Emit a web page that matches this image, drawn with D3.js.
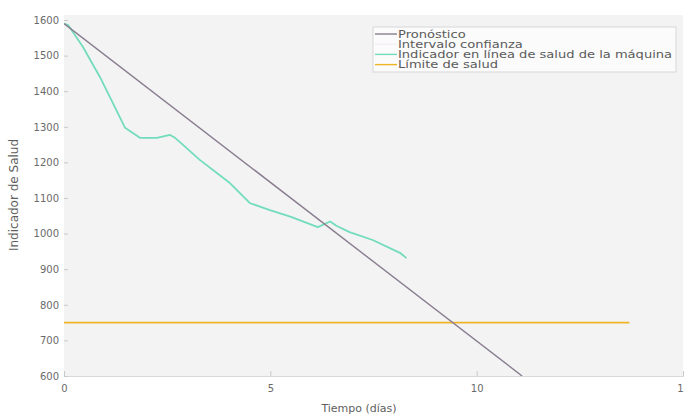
<!DOCTYPE html>
<html>
<head>
<meta charset="utf-8">
<script src="https://cdn.jsdelivr.net/npm/d3@7"></script>
<style>
  body { margin: 0; background: #fff; }
  svg { display: block; font-family: "DejaVu Sans", "Lato", sans-serif; }
</style>
</head>
<body>
<div id="chart"></div>
<script>
// data
var healthDays = [0, 0.1, 0.46, 0.87, 1.11, 1.48, 1.84, 2.25, 2.57, 2.69, 2.81, 3.29, 4.02, 4.5, 4.99, 5.5, 5.88, 6.15, 6.45, 6.6, 6.92, 7.48, 8.14, 8.3];
var healthVals = [1590, 1586, 1524, 1440, 1384, 1297, 1269, 1269, 1277, 1269, 1257, 1207, 1142, 1086, 1066, 1047, 1030, 1018, 1034, 1022, 1004, 982, 946, 931];
var forecastDays = [0, 11.1];
var forecastVals = [1590, 600];
var limitDays = [0, 13.7];
var limitVals = [750, 750];
var xTicks = [0, 5, 10, 15];
var yTicks = [600, 700, 800, 900, 1000, 1100, 1200, 1300, 1400, 1500, 1600];
var legendLabels = ['Pronóstico', 'Intervalo confianza', 'Indicador en línea de salud de la máquina', 'Límite de salud'];
var legendColors = ['#887c8e', '#f3eef3', '#72dcbc', '#efb526'];

var W = 684, H = 418;
var m = {left: 64, right: 1, top: 20, bottom: 42};

var svg = d3.select('#chart').append('svg').attr('width', W).attr('height', H);

var x = d3.scaleLinear().domain([0, 15]).range([m.left, W - m.right]);
var y = d3.scaleLinear().domain([600, 1600]).range([H - m.bottom, m.top]);

svg.append('rect')
    .attr('x', m.left).attr('y', 15)
    .attr('width', W - m.left - m.right).attr('height', H - m.bottom - 15)
    .attr('fill', '#f3f3f4');

svg.append('clipPath').attr('id', 'clip').append('rect')
    .attr('x', m.left).attr('y', 15)
    .attr('width', W - m.left - m.right).attr('height', H - m.bottom - 15);

// axes
var xAxis = svg.append('g')
    .attr('transform', 'translate(0,' + (H - m.bottom) + ')')
    .call(d3.axisBottom(x).tickValues(xTicks).tickSize(-5).tickPadding(9));
var yAxis = svg.append('g')
    .attr('transform', 'translate(' + m.left + ',0)')
    .call(d3.axisLeft(y).tickValues(yTicks).tickSize(-4).tickPadding(5).tickFormat(d3.format('d')));

[xAxis, yAxis].forEach(function (g) {
    g.select('.domain').attr('stroke', '#d8d8d8');
    g.selectAll('.tick line').attr('stroke', '#c8c8c8');
    g.selectAll('.tick text').attr('fill', '#6a6a6a').style('font-size', '10px')
        .style('font-family', '"DejaVu Sans", sans-serif');
});
yAxis.select('.domain').attr('stroke', 'none');

svg.append('text')
    .attr('x', 359).attr('y', 412)
    .attr('text-anchor', 'middle')
    .attr('fill', '#5e5e5e').style('font-size', '11px')
    .text('Tiempo (días)');
svg.append('text')
    .attr('transform', 'translate(18,' + 195 + ') rotate(-90)')
    .attr('text-anchor', 'middle')
    .attr('fill', '#5e5e5e').style('font-size', '12px')
    .text('Indicador de Salud');

var line = d3.line()
    .x(function (d) { return x(d[0]); })
    .y(function (d) { return y(d[1]); });

var plot = svg.append('g').attr('clip-path', 'url(#clip)');

plot.append('path')
    .datum(limitDays.map(function (d, i) { return [d, limitVals[i]]; }))
    .attr('d', line).attr('fill', 'none')
    .attr('stroke', legendColors[3]).attr('stroke-width', 1.6);

plot.append('path')
    .datum(healthDays.map(function (d, i) { return [d, healthVals[i]]; }))
    .attr('d', line).attr('fill', 'none')
    .attr('stroke', legendColors[2]).attr('stroke-width', 1.8)
    .attr('stroke-linejoin', 'round');

plot.append('path')
    .datum(forecastDays.map(function (d, i) { return [d, forecastVals[i]]; }))
    .attr('d', line).attr('fill', 'none')
    .attr('stroke', legendColors[0]).attr('stroke-width', 1.4);

// legend (the original font is wide, so stretch the text)
var lg = svg.append('g').attr('transform', 'translate(373,27)');
lg.append('rect')
    .attr('width', 303).attr('height', 45)
    .attr('fill', '#fbfbfb').attr('stroke', '#cfcfcf').attr('stroke-width', 0.8);
legendLabels.forEach(function (t, i) {
    var ly = 7 + i * 10.2;
    lg.append('line')
        .attr('x1', 2).attr('x2', 24).attr('y1', ly).attr('y2', ly)
        .attr('stroke', legendColors[i]).attr('stroke-width', 1.4);
    var txt = lg.append('text')
        .attr('x', 25).attr('y', ly + 3.5)
        .attr('fill', '#5a5a5a').style('font-size', '9.6px')
        .text(t);
    var w = txt.node().getComputedTextLength();
    txt.attr('textLength', w * 1.36).attr('lengthAdjust', 'spacingAndGlyphs');
});
</script>
</body>
</html>
